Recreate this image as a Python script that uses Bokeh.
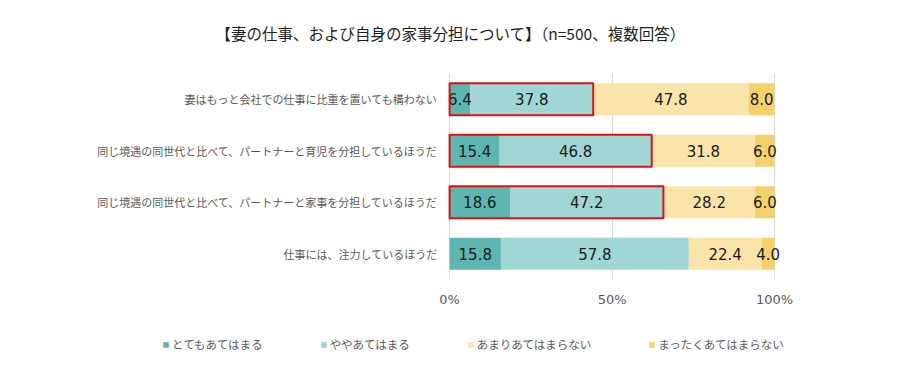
import numpy as np
from bokeh.plotting import figure
from bokeh.layouts import column
from bokeh.models import (ColumnDataSource, FactorRange, Range1d, FixedTicker,
                          PrintfTickFormatter, Legend, LegendItem, Label)
from bokeh.core.properties import value
from bokeh.embed import file_html
from bokeh.resources import INLINE

# ---- data ----
categories = [
    "妻はもっと会社での仕事に比重を置いても構わない",
    "同じ境遇の同世代と比べて、パートナーと育児を分担しているほうだ",
    "同じ境遇の同世代と比べて、パートナーと家事を分担しているほうだ",
    "仕事には、注力しているほうだ",
]
series_names = ["とてもあてはまる", "ややあてはまる", "あまりあてはまらない", "まったくあてはまらない"]
very = [6.4, 15.4, 18.6, 15.8]
somewhat = [37.8, 46.8, 47.2, 57.8]
not_much = [47.8, 31.8, 28.2, 22.4]
not_at_all = [8.0, 6.0, 6.0, 4.0]
highlighted = [True, True, True, False]
x_ticks = [0, 50, 100]
title_text = "【妻の仕事、および自身の家事分担について】（n=500、複数回答）"

colors = ["#5DB6AF", "#A0D6D3", "#FBE4A9", "#F5D16C"]
JP = "Noto Sans CJK JP"
NUM = "DejaVu Sans"

keys = ["s0", "s1", "s2", "s3"]
data = dict(cat=categories, s0=very, s1=somewhat, s2=not_much, s3=not_at_all)
src = ColumnDataSource(data)

# ---- title strip ----
top = figure(width=896, height=50, output_backend="svg", toolbar_location=None,
             x_range=Range1d(0, 1), y_range=Range1d(0, 1),
             min_border_left=10, min_border_right=2, min_border_top=0, min_border_bottom=0)
top.axis.visible = False
top.grid.grid_line_color = None
top.outline_line_color = None
top.add_layout(Label(x=205, y=18, x_units="screen", y_units="screen", text=title_text,
                     text_font=JP, text_font_size="15.5px", text_align="left",
                     text_baseline="middle", text_color="#1f1f1f"))

# ---- main chart: wide frame, 0% sits 439px right of the frame's left edge ----
p = figure(width=896, height=270, output_backend="svg", toolbar_location=None,
           y_range=FactorRange(factors=categories[::-1]),
           x_range=Range1d(-135.1, 136.9),
           min_border_left=10, min_border_right=2,
           min_border_top=23, min_border_bottom=41)
p.outline_line_color = None

renderers = p.hbar_stack(keys, y="cat", height=0.62, color=colors, source=src,
                         line_color=None)

# data labels
vals = np.array([very, somewhat, not_much, not_at_all]).T
lefts = np.cumsum(vals, axis=1) - vals
lx, ly, lt = [], [], []
for i, c in enumerate(categories):
    for j in range(4):
        lx.append(lefts[i, j] + vals[i, j] / 2)
        ly.append(c)
        lt.append(f"{vals[i, j]:.1f}")
p.text(x=lx, y=ly, text=lt, text_align="center", text_baseline="middle",
       text_font=value(NUM), text_font_size="15px", text_color="#1a1a1a")

# category labels at the bars' origin
p.text(x=list(lefts[:, 0]), y=categories, text=categories, x_offset=-12,
       text_align="right", text_baseline="middle", text_font=value(JP),
       text_font_size="11px", text_color="#595959")

# red highlight boxes
hc = [c for c, h in zip(categories, highlighted) if h]
hr = [vals[i, 0] + vals[i, 1] for i, h in enumerate(highlighted) if h]
p.hbar(y=hc, left=0, right=hr, height=0.62, fill_color=None,
       line_color="#E01010", line_width=2)

# axes
p.xaxis.ticker = FixedTicker(ticks=x_ticks)
p.xaxis.formatter = PrintfTickFormatter(format="%d%%")
p.xaxis.axis_line_color = None
p.xaxis.major_tick_line_color = None
p.xaxis.minor_tick_line_color = None
p.xaxis.major_label_standoff = 6
p.xaxis.major_label_text_font = NUM
p.xaxis.major_label_text_font_size = "13px"
p.xaxis.major_label_text_color = "#595959"
p.yaxis.visible = False

p.ygrid.grid_line_color = None
p.xgrid.ticker = FixedTicker(ticks=x_ticks)
p.xgrid.grid_line_color = "#D9D9D9"
p.xgrid.level = "underlay"

# ---- legend strip below the chart (hidden copies of the bars feed the legend) ----
lg = figure(width=896, height=50, output_backend="svg", toolbar_location=None,
            x_range=Range1d(0, 1), y_range=FactorRange(factors=categories),
            min_border_left=10, min_border_right=2, min_border_top=0, min_border_bottom=0)
lg.axis.visible = False
lg.grid.grid_line_color = None
lg.outline_line_color = None
lrs = lg.hbar_stack(keys, y="cat", height=0.62, color=colors, source=src, line_color=None)
for r in lrs:
    r.visible = False
items = [LegendItem(label=n, renderers=[r]) for n, r in zip(series_names, lrs)]
legend = Legend(items=items, orientation="horizontal", location=(152, 18),
                spacing=57, label_standoff=3, glyph_width=7, glyph_height=7,
                label_height=14, label_text_font=JP, label_text_font_size="11.5px",
                label_text_color="#595959", padding=0, margin=0,
                border_line_color=None, background_fill_alpha=0,
                inactive_fill_alpha=0)
lg.add_layout(legend)

layout = column(top, p, lg, spacing=0)
open("out.html", "w").write(file_html(layout, INLINE))
